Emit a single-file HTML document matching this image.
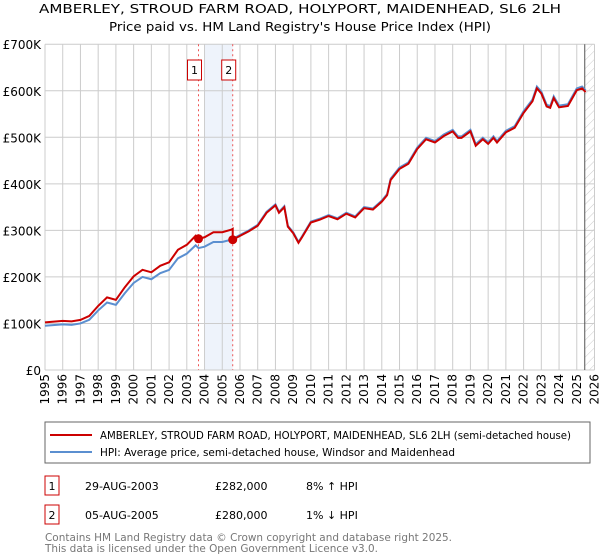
<!DOCTYPE html>
<html><head><meta charset="utf-8"><style>
body{margin:0;width:600px;height:560px;background:#fff;font-family:"DejaVu Sans","Liberation Sans",sans-serif;overflow:hidden}
svg{position:absolute;left:0;top:0;font-family:"DejaVu Sans","Liberation Sans",sans-serif}
</style></head><body>
<svg id="c" width="600" height="560">
<defs><pattern id="hatch" width="6" height="6" patternUnits="userSpaceOnUse" patternTransform="rotate(45)"><line x1="0" y1="0" x2="0" y2="6" stroke="#ccc" stroke-width="1"/></pattern></defs>
<text x="300" y="13" text-anchor="middle" font-size="12.5" textLength="522" lengthAdjust="spacingAndGlyphs">AMBERLEY, STROUD FARM ROAD, HOLYPORT, MAIDENHEAD, SL6 2LH</text>
<text x="300" y="31" text-anchor="middle" font-size="12.5" textLength="382" lengthAdjust="spacingAndGlyphs">Price paid vs. HM Land Registry's House Price Index (HPI)</text>
<g id="grid"></g><g id="marks"></g><g id="axes"></g>
<rect x="45" y="422" width="545" height="41" fill="#fff" stroke="#666" stroke-width="1"/>
<line x1="50" y1="435" x2="92" y2="435" stroke="#cc0000" stroke-width="2"/>
<text x="100" y="439" font-size="11" textLength="471" lengthAdjust="spacingAndGlyphs">AMBERLEY, STROUD FARM ROAD, HOLYPORT, MAIDENHEAD, SL6 2LH (semi-detached house)</text>
<line x1="50" y1="452" x2="92" y2="452" stroke="#5b8fd0" stroke-width="2"/>
<text x="100" y="456" font-size="11" textLength="355" lengthAdjust="spacingAndGlyphs">HPI: Average price, semi-detached house, Windsor and Maidenhead</text>
<g>
<rect x="45" y="476" width="14" height="19" fill="#fff" stroke="#cc0000"/><text x="52" y="490" font-size="11" text-anchor="middle">1</text>
<text x="85" y="490" font-size="11">29-AUG-2003</text><text x="215" y="490" font-size="11">£282,000</text><text x="306" y="490" font-size="11">8% ↑ HPI</text></g>
<g>
<rect x="45" y="505" width="14" height="19" fill="#fff" stroke="#cc0000"/><text x="52" y="519" font-size="11" text-anchor="middle">2</text>
<text x="85" y="519" font-size="11">05-AUG-2005</text><text x="215" y="519" font-size="11">£280,000</text><text x="306" y="519" font-size="11">1% ↓ HPI</text></g>
<text x="45" y="541" font-size="11" fill="#777" textLength="407" lengthAdjust="spacingAndGlyphs">Contains HM Land Registry data © Crown copyright and database right 2025.</text>
<text x="45" y="552" font-size="11" fill="#777" textLength="333" lengthAdjust="spacingAndGlyphs">This data is licensed under the Open Government Licence v3.0.</text>
</svg>
<script>
const hpiYears=[1995,1996,1996.5,1997,1997.5,1998,1998.5,1999,1999.5,2000,2000.5,2001,2001.5,2002,2002.5,2003,2003.5,2003.66,2004,2004.5,2005,2005.5,2006,2006.5,2007,2007.5,2008,2008.2,2008.5,2008.7,2009,2009.3,2009.5,2010,2010.5,2011,2011.5,2012,2012.5,2013,2013.5,2014,2014.3,2014.5,2015,2015.5,2016,2016.5,2017,2017.5,2018,2018.3,2018.5,2019,2019.3,2019.7,2020,2020.3,2020.5,2021,2021.5,2022,2022.5,2022.75,2023,2023.3,2023.5,2023.7,2024,2024.5,2025,2025.3,2025.5];
const hpiValues=[95,98,97,100,108,128,145,140,165,187,200,195,208,215,240,250,268,262,265,275,275,280,290,300,312,340,356,340,352,310,296,275,287,319,325,333,326,338,330,350,347,364,378,411,435,446,478,499,492,506,516,502,502,516,485,499,489,502,492,514,524,556,581,609,598,570,567,588,568,571,605,609,601];
const saleDates=[2003.66,2005.59];
const salePrices=[282,280];
const yTicks=[0,100,200,300,400,500,600,700];
const yTickLabels=["£0","£100K","£200K","£300K","£400K","£500K","£600K","£700K"];
const xTicks=[1995,1996,1997,1998,1999,2000,2001,2002,2003,2004,2005,2006,2007,2008,2009,2010,2011,2012,2013,2014,2015,2016,2017,2018,2019,2020,2021,2022,2023,2024,2025,2026];
const X=t=>45+(t-1995)*(549.5/31);
const Y=v=>370-v*0.4654;
const NS="http://www.w3.org/2000/svg";
function mk(tag,attrs,parent){const e=document.createElementNS(NS,tag);for(const k in attrs)e.setAttribute(k,attrs[k]);parent.appendChild(e);return e;}
const grid=document.getElementById('grid'),marks=document.getElementById('marks'),axes=document.getElementById('axes');
let sh=mk('rect',{x:X(2004),y:Y(700),width:X(saleDates[1])-X(2004),height:Y(0)-Y(700),fill:'#eef3fb'},grid);


let ht=mk('rect',{x:X(2025.45),y:Y(700),width:X(2026)-X(2025.45),height:Y(0)-Y(700),fill:'url(#hatch)'},grid);


yTicks.forEach((v,i)=>{
 let l=mk('line',{x1:45,x2:X(2026),y1:Y(v),y2:Y(v),stroke:'#ccc'},grid);
 
 
 let t=mk('text',{x:41,y:Y(v)+5,'text-anchor':'end','font-size':12},axes);t.textContent=yTickLabels[i];
 
 
});
xTicks.forEach(y=>{
 let l=mk('line',{x1:X(y),x2:X(y),y1:Y(700),y2:Y(0),stroke:'#ccc'},grid);
 
 
 let t=mk('text',{x:0,y:0,'text-anchor':'end','font-size':12,transform:`translate(${X(y)+4},374) rotate(-90)`},axes);t.textContent=y;
 
 
});
let el=mk('line',{x1:X(2025.45),x2:X(2025.45),y1:Y(700),y2:Y(0),stroke:'#555'},grid);


saleDates.forEach((d,i)=>{
 let l=mk('line',{x1:X(d),x2:X(d),y1:Y(700),y2:Y(0),stroke:'#e55','stroke-dasharray':'2,3'},grid);
 
 
 let g=mk('g',{},marks);
 
 
 mk('rect',{x:X(d)-11,y:60,width:14,height:20,fill:'#fff',stroke:'#cc0000'},g);
 let t=mk('text',{x:X(d)-4,y:74,'text-anchor':'middle','font-size':11},g);t.textContent=i+1;
});
function interp(t){for(let i=0;i<hpiYears.length-1;i++){if(t>=hpiYears[i]&&t<=hpiYears[i+1]){const f=(t-hpiYears[i])/(hpiYears[i+1]-hpiYears[i]);return hpiValues[i]+f*(hpiValues[i+1]-hpiValues[i]);}}return hpiValues[hpiValues.length-1];}
const f1=salePrices[0]/interp(saleDates[0]),f2=salePrices[1]/interp(saleDates[1]);
let hp=mk('polyline',{points:hpiYears.map((t,i)=>X(t)+','+Y(hpiValues[i])).join(' '),fill:'none',stroke:'#5b8fd0','stroke-width':2},marks);


const rp=[];
hpiYears.forEach((t,i)=>{
 if(t<saleDates[1]) rp.push([t,hpiValues[i]*f1]);
 else { if(rp.length&&rp[rp.length-1][0]<saleDates[1]){rp.push([saleDates[1],interp(saleDates[1])*f1]);rp.push([saleDates[1],salePrices[1]]);} rp.push([t,hpiValues[i]*f2]); }
});
let pl=mk('polyline',{points:rp.map(p=>X(p[0])+','+Y(p[1])).join(' '),fill:'none',stroke:'#cc0000','stroke-width':2},marks);


saleDates.forEach((d,i)=>{
 let c=mk('circle',{cx:X(d),cy:Y(salePrices[i]),r:4.5,fill:'#cc0000'},marks);
 
 
});
</script>
</body></html>
